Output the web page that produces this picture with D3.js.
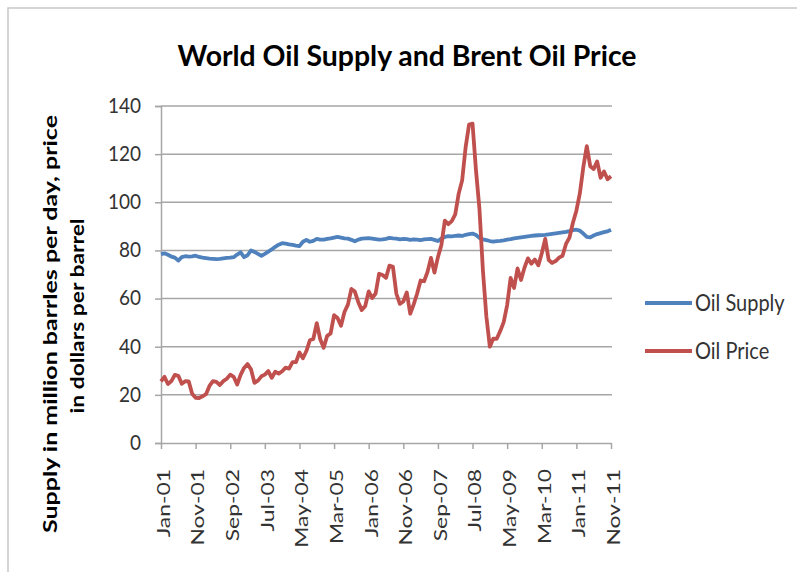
<!DOCTYPE html>
<html>
<head>
<meta charset="utf-8">
<script src="https://cdn.jsdelivr.net/npm/d3@7"></script>
<style>
  body { margin: 0; background: #fff; }
  svg { display: block; }
  text { font-family: Lato, "Open Sans", sans-serif; fill: #262626; }
</style>
</head>
<body>
<div id="chart"></div>
<script>
// monthly categories Jan-01 .. Nov-11
const months = d3.timeMonth.range(new Date(2001, 0, 1), new Date(2011, 11, 1));
const fmt = d3.timeFormat("%b-%y");
const categories = months.map(fmt);

const tickLabels = ["Jan-01", "Nov-01", "Sep-02", "Jul-03", "May-04", "Mar-05", "Jan-06",
  "Nov-06", "Sep-07", "Jul-08", "May-09", "Mar-10", "Jan-11", "Nov-11"];
const yTicks = [0, 20, 40, 60, 80, 100, 120, 140];

// million barrels per day
const oilSupply = [
  78.5, 78.8, 78.2, 77.4, 77.0, 75.8, 77.2, 77.6, 77.4, 77.5, 77.8, 77.3,
  77.0, 76.8, 76.6, 76.5, 76.4, 76.5, 76.7, 76.9, 77.0, 77.2, 78.3, 79.2,
  77.2, 78.0, 80.0, 79.4, 78.6, 77.8, 78.6, 79.5, 80.4, 81.5, 82.4, 83.0,
  82.8, 82.5, 82.3, 82.0, 81.8, 83.6, 84.4, 83.6, 84.0, 84.8, 84.5, 84.5,
  84.8, 85.0, 85.3, 85.6, 85.3, 85.0, 84.9, 84.4, 83.8, 84.5, 84.9, 85.0,
  85.1, 84.9, 84.7, 84.5, 84.6, 84.8, 85.2, 85.0, 84.9, 84.6, 84.8, 84.7,
  84.4, 84.6, 84.5, 84.3, 84.6, 84.7, 84.8, 84.4, 83.9, 85.0, 85.6, 85.9,
  85.8, 86.0, 86.2, 86.0, 86.5, 86.8, 87.0, 86.4, 85.2, 84.6, 84.3, 83.9,
  83.7, 83.9, 84.0, 84.2, 84.5, 84.7, 85.0, 85.2, 85.4, 85.6, 85.8, 86.0,
  86.2, 86.3, 86.4, 86.5, 86.7, 86.9, 87.1, 87.3, 87.5, 87.7, 88.0, 88.4,
  88.6, 88.2, 87.0, 85.6, 85.4, 86.2, 86.8, 87.2, 87.6, 87.9, 88.6
];

// dollars per barrel
const oilPrice = [
  25.6, 27.5, 24.5, 25.7, 28.3, 27.9, 24.6, 25.7, 25.6, 20.5, 18.8, 18.7,
  19.4, 20.3, 23.7, 25.7, 25.4, 24.1, 25.7, 26.7, 28.4, 27.5, 24.3, 28.3,
  31.2, 32.8, 30.6, 25.0, 25.9, 27.7, 28.4, 29.9, 27.1, 29.6, 28.8, 29.8,
  31.3, 30.9, 33.6, 33.6, 37.6, 35.2, 38.2, 42.7, 43.2, 49.8, 43.1, 39.6,
  44.5, 45.5, 53.1, 51.9, 48.7, 54.4, 57.5, 64.0, 62.9, 58.5, 55.2, 56.9,
  63.0, 60.2, 62.1, 70.3, 69.8, 68.6, 73.7, 73.2, 62.0, 57.8, 58.8, 62.5,
  53.7, 57.6, 62.1, 67.5, 67.2, 71.1, 76.9, 70.8, 77.2, 82.3, 92.4, 90.9,
  92.2, 95.0, 103.6, 109.1, 122.8, 132.3, 132.7, 113.2, 97.2, 71.6, 52.5, 40.0,
  43.4, 43.3, 46.5, 50.2, 57.3, 68.6, 64.4, 72.5, 67.7, 72.8, 76.7, 74.5,
  76.2, 73.8, 78.8, 84.8, 76.0, 74.8, 75.6, 77.0, 77.8, 82.7, 85.3, 91.5,
  96.5, 103.7, 114.6, 123.3, 115.0, 113.8, 117.0, 110.2, 112.8, 109.6, 110.8
];

const seriesNames = ["Oil Supply", "Oil Price"];
const seriesColors = ["#4f81bd", "#c0504d"];

const W = 797, H = 572;
const svg = d3.select("#chart").append("svg").attr("width", W).attr("height", H);

// chart frame
svg.append("path")
  .attr("d", `M8,${H} L8,8 L${W},8`)
  .attr("fill", "none").attr("stroke", "#c8c8c8").attr("stroke-width", 1.5);

const x = d3.scalePoint().domain(categories).range([161, 611]);
const y = d3.scaleLinear().domain([0, 140]).range([443, 106]);

// gridlines
svg.append("g").selectAll("line").data(yTicks.filter(d => d > 0)).enter()
  .append("line")
  .attr("x1", 161).attr("x2", 612)
  .attr("y1", d => y(d)).attr("y2", d => y(d))
  .attr("stroke", "#a6a6a6").attr("stroke-width", 1.5);

// y axis
const yAxis = svg.append("g").attr("transform", "translate(161,0)")
  .call(d3.axisLeft(y).tickValues(yTicks).tickSize(6).tickPadding(14));
yAxis.select(".domain").attr("stroke", "#a6a6a6").attr("stroke-width", 1.5);
yAxis.selectAll(".tick line").attr("stroke", "#a6a6a6").attr("stroke-width", 1.5);
yAxis.selectAll("text").style("font-size", "19px").style("fill", "#333")
  .attr("transform", "scale(1,1.12)").attr("dy", "0.3em");

// x axis
const xAxis = svg.append("g").attr("transform", "translate(0,443)")
  .call(d3.axisBottom(x).tickValues(tickLabels).tickSize(6).tickSizeOuter(0));
xAxis.select(".domain").attr("stroke", "#a6a6a6").attr("stroke-width", 1.5);
xAxis.selectAll(".tick line").attr("stroke", "#a6a6a6").attr("stroke-width", 1.5);
xAxis.selectAll("text")
  .attr("transform", "rotate(-90) scale(1.27,1)")
  .attr("x", -20.5).attr("y", 2).attr("dy", "0.35em")
  .style("text-anchor", "end")
  .style("font-size", "18px").style("fill", "#333");

// lines
const line = d3.line().x((d, i) => x(categories[i])).y(d => y(d));
[oilSupply, oilPrice].forEach((vals, k) => {
  svg.append("path").datum(vals)
    .attr("fill", "none")
    .attr("stroke", seriesColors[k])
    .attr("stroke-width", 3.8)
    .attr("stroke-linejoin", "round")
    .attr("d", line);
});

// title
svg.append("text")
  .attr("transform", "translate(407,66) scale(1,1.1)")
  .attr("text-anchor", "middle")
  .attr("textLength", 459).attr("lengthAdjust", "spacingAndGlyphs")
  .style("font-size", "26px").style("font-weight", "bold").style("fill", "#000")
  .text("World Oil Supply and Brent Oil Price");

// y axis title
const yt = svg.append("g").attr("transform", "translate(0,324) rotate(-90)");
yt.append("text").attr("x", 0).attr("y", 57)
  .attr("text-anchor", "middle")
  .attr("textLength", 418).attr("lengthAdjust", "spacingAndGlyphs")
  .style("font-size", "19px").style("font-weight", "bold").style("fill", "#000")
  .text("Supply in million barrles per day, price");
yt.append("text").attr("x", 8).attr("y", 84)
  .attr("text-anchor", "middle")
  .attr("textLength", 195).attr("lengthAdjust", "spacingAndGlyphs")
  .style("font-size", "19px").style("font-weight", "bold").style("fill", "#000")
  .text("in dollars per barrel");

// legend
const legend = svg.append("g").selectAll("g").data(seriesNames).enter()
  .append("g").attr("transform", (d, i) => `translate(645,${303 + i * 48})`);
legend.append("line").attr("x1", 0).attr("x2", 47)
  .attr("stroke", (d, i) => seriesColors[i]).attr("stroke-width", 3.8);
legend.append("text").attr("x", 50).attr("dy", "0.35em")
  .attr("transform", "scale(1,1.12)")
  .style("font-size", "20px").style("fill", "#333")
  .text(d => d);
</script>
</body>
</html>
